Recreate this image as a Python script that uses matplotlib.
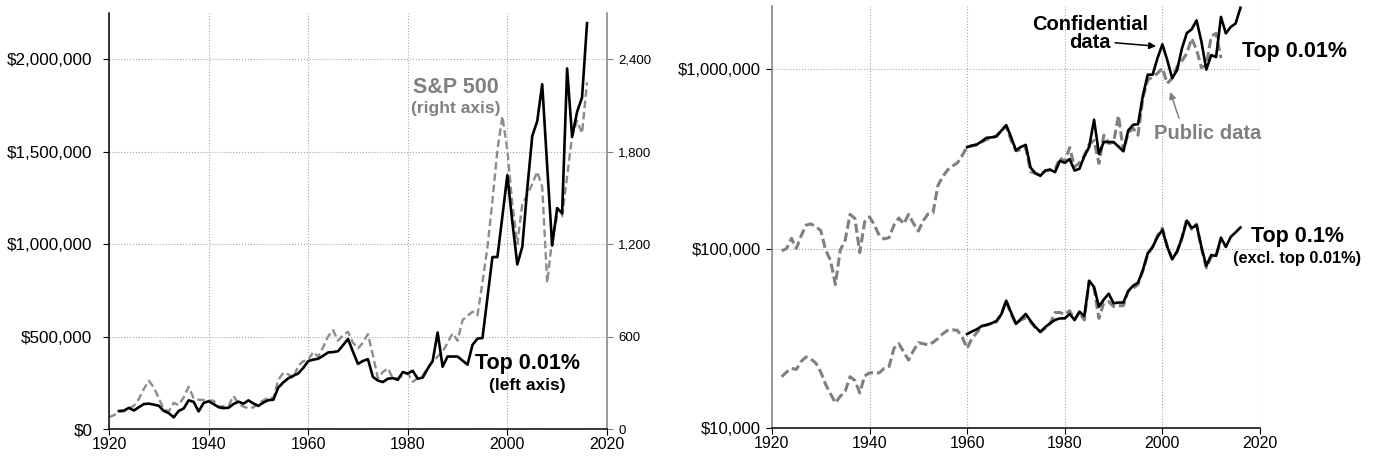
import numpy as np
import matplotlib
matplotlib.use('Agg')
import matplotlib.pyplot as plt
from matplotlib.ticker import FuncFormatter, FixedLocator, NullLocator

plt.rcParams['font.family'] = ['Liberation Sans', 'DejaVu Sans']

# ---- data ----
# S&P 500 (real), right axis of the left panel, 1920-2016
sp_years = list(range(1920, 2017))
sp500 = [76, 90, 112, 115, 135, 150, 195, 260, 313, 270,
         200, 128, 115, 170, 155, 205, 274, 200, 190, 188,
         185, 184, 145, 148, 150, 214, 165, 145, 135, 140,
         167, 185, 205, 200, 318, 365, 355, 330, 410, 440,
         447, 500, 470, 530, 600, 642, 573, 610, 631, 560,
         523, 560, 616, 480, 329, 370, 394, 329, 330, 345,
         361, 307, 330, 345, 400, 437, 470, 501, 560, 621,
         573, 707, 735, 761, 739, 950, 1180, 1480, 1810, 2030,
         1810, 1460, 1200, 1460, 1520, 1590, 1670, 1570, 950, 1230,
         1380, 1380, 1640, 1900, 2000, 1920, 2250]

# top 0.01% average income, public data, 1922-2012 (thousand $)
pub_years = list(range(1922, 2013))
top001_pub = [97, 100, 114, 100, 118, 135, 137, 132,
              126, 98, 86, 63, 98, 111, 155, 147, 95, 141,
              150, 135, 118, 113, 115, 135, 148, 137, 155, 138,
              125, 143, 156, 158, 224, 252, 274, 288, 300, 330,
              369, 372, 378, 392, 405, 412, 425, 455, 480, 400,
              350, 355, 365, 268, 262, 258, 270, 275, 275, 320,
              305, 365, 285, 300, 330, 380, 400, 298, 428, 385,
              390, 550, 350, 440, 468, 428, 690, 868, 906, 946,
              1010, 832, 887, 1030, 1110, 1220, 1480, 1280, 1020, 1050,
              1520, 1580, 1150]

# top 0.01%, confidential data, 1960-2016 (thousand $)
conf_years = list(range(1960, 2017))
top001_conf = [367, 375, 380, 396, 414, 416, 421, 453, 487, 418,
               352, 368, 378, 282, 262, 254, 272, 275, 266, 308,
               300, 315, 272, 278, 326, 368, 522, 337, 392, 392,
               392, 370, 348, 455, 489, 492, 710, 930, 930, 1150,
               1373, 1120, 890, 985, 1300, 1585, 1665, 1865, 1420, 992,
               1195, 1166, 1950, 1580, 1715, 1793, 2195]

# top 0.1% excl. top 0.01% (thousand $)
top01_pub = [19.3, 20.5, 21.5, 21.2, 23.5, 24.9, 24.2, 23.0,
             20.5, 17.5, 15.5, 13.8, 15.0, 16.0, 19.3, 18.4, 15.7, 19.5,
             20.3, 20.3, 20.3, 21.5, 22.0, 27.8, 29.5, 26.5, 23.9, 27.0,
             29.9, 29.5, 29.0, 30.0, 31.5, 33.5, 35.0, 35.2, 35.0, 32.0,
             27.8, 31.6, 34.0, 37.0, 37.5, 38.3, 39.0, 43.0, 51.0, 43.0,
             38.2, 40.0, 41.0, 39.0, 36.0, 34.4, 36.0, 38.2, 44.0, 44.0,
             43.0, 45.0, 40.0, 44.0, 40.0, 66.0, 60.0, 40.8, 50.0, 50.6,
             47.5, 48.0, 48.0, 58.0, 60.0, 63.0, 75.0, 93.0, 102, 118,
             130, 103, 88, 96, 115, 146, 128, 137, 100, 78,
             90, 92, 110]
top01_conf = [33.4, 34.5, 35.5, 37.0, 37.5, 38.3, 39.5, 43.0, 51.2, 44.0,
              38.0, 40.5, 43.2, 39.5, 36.5, 34.3, 36.5, 38.3, 40.0, 40.8,
              40.8, 43.2, 40.0, 44.5, 42.0, 66.0, 61.0, 47.4, 52.0, 56.0,
              49.5, 50.0, 50.0, 58.0, 62.0, 64.5, 75.9, 94.0, 102, 116,
              127, 102, 87, 96, 114, 143, 130, 135, 102, 80,
              92, 91, 115, 102, 116, 123, 131]

# left panel top 0.01%: public data before 1960, confidential after
left_years = pub_years[:38] + conf_years
left_top = top001_pub[:38] + top001_conf

GRAY = '#808080'
grid_kw = dict(color='#a6a6a6', linestyle=':', linewidth=0.8)
dollar = FuncFormatter(lambda v, p: '${:,.0f}'.format(v))

fig = plt.figure(figsize=(13.76, 4.62), dpi=100)

# ---------------- left panel ----------------
ax1 = fig.add_axes([0.0792, 0.0714, 0.3619, 0.9005])
ax2 = ax1.twinx()
ax1.set_zorder(ax2.get_zorder() + 1)
ax1.patch.set_visible(False)

ax2.plot(sp_years, sp500, color='#8c8c8c', lw=1.7, dashes=(3.2, 1.6))
ax1.plot(left_years, np.array(left_top) * 1000, color='black', lw=1.9)

ax1.set_xlim(1920, 2020)
ax1.set_ylim(0, 2250000)
ax2.set_ylim(0, 2700)
ax1.set_xticks([1920, 1940, 1960, 1980, 2000, 2020])
ax1.set_yticks([0, 500000, 1000000, 1500000, 2000000])
ax2.set_yticks([0, 600, 1200, 1800, 2400])
ax1.yaxis.set_major_formatter(dollar)
ax2.yaxis.set_major_formatter(FuncFormatter(lambda v, p: '{:,.0f}'.format(v)))
ax1.grid(True, **grid_kw)
ax1.set_axisbelow(True)

for a in (ax1, ax2):
    a.spines['top'].set_visible(False)
ax1.spines['right'].set_visible(False)
ax2.spines['left'].set_visible(False)
ax2.spines['bottom'].set_visible(False)
ax1.spines['left'].set_linewidth(1.1)
ax1.spines['bottom'].set_linewidth(1.1)
ax2.spines['right'].set_color(GRAY)
ax2.spines['right'].set_linewidth(1.1)
ax1.tick_params(axis='y', labelsize=12.3, length=4, pad=8)
ax1.tick_params(axis='x', labelsize=11.5, length=4, pad=2)
ax2.tick_params(axis='y', labelsize=9.5, length=4, color=GRAY, pad=4)

ax1.text(1989.7, 1848000, 'S&P 500', color=GRAY, fontsize=15.5,
         fontweight='bold', ha='center', va='center')
ax1.text(1989.7, 1735000, '(right axis)', color=GRAY, fontsize=12.5,
         fontweight='bold', ha='center', va='center')
ax1.text(2004, 357000, 'Top 0.01%', color='black', fontsize=15.5,
         fontweight='bold', ha='center', va='center')
ax1.text(2004, 238000, '(left axis)', color='black', fontsize=12.5,
         fontweight='bold', ha='center', va='center')

# ---------------- right panel ----------------
ax3 = fig.add_axes([0.5610, 0.0736, 0.3547, 0.9134])
ax3.set_yscale('log')
ax3.plot(pub_years, np.array(top001_pub) * 1000, color=GRAY, lw=2.2, dashes=(3, 1.3))
ax3.plot(pub_years, np.array(top01_pub) * 1000, color=GRAY, lw=2.2, dashes=(3, 1.3))
ax3.plot(conf_years, np.array(top001_conf) * 1000, color='black', lw=1.9)
ax3.plot(conf_years, np.array(top01_conf) * 1000, color='black', lw=1.9)

ax3.set_xlim(1920, 2020)
ax3.set_ylim(10000, 2244000)
ax3.set_xticks([1920, 1940, 1960, 1980, 2000, 2020])
ax3.yaxis.set_major_locator(FixedLocator([10000, 100000, 1000000]))
ax3.yaxis.set_minor_locator(NullLocator())
ax3.yaxis.set_major_formatter(dollar)
ax3.grid(True, **grid_kw)
ax3.set_axisbelow(True)
ax3.spines['top'].set_visible(False)
ax3.spines['right'].set_visible(False)
ax3.spines['left'].set_color(GRAY)
ax3.spines['left'].set_linewidth(1.1)
ax3.spines['bottom'].set_linewidth(1.1)
ax3.tick_params(axis='y', labelsize=12, length=4, pad=4)
ax3.tick_params(axis='x', labelsize=11.5, length=4, pad=2)

ax3.text(1985.2, 1578000, 'Confidential\ndata', fontsize=14.5, fontweight='bold',
         ha='center', va='center', linespacing=0.9)
ax3.annotate('', xy=(1998.7, 1340000), xytext=(1990.3, 1400000),
             arrowprops=dict(arrowstyle='-|>', color='black', lw=1.1,
                             shrinkA=0, shrinkB=0, mutation_scale=10))
ax3.annotate('', xy=(2001.6, 745000), xytext=(2003.4, 533000),
             arrowprops=dict(arrowstyle='-|>', color=GRAY, lw=1.1,
                             shrinkA=0, shrinkB=0, mutation_scale=10))
ax3.text(2009.3, 440000, 'Public data', color=GRAY, fontsize=14.5,
         fontweight='bold', ha='center', va='center')
ax3.text(2027, 1245000, 'Top 0.01%', color='black', fontsize=15.5,
         fontweight='bold', ha='center', va='center')
ax3.text(2027.6, 116000, 'Top 0.1%', color='black', fontsize=15.5,
         fontweight='bold', ha='center', va='center')
ax3.text(2027.6, 88500, '(excl. top 0.01%)', color='black', fontsize=11.8,
         fontweight='bold', ha='center', va='center')

fig.savefig('out.png', dpi=100)
